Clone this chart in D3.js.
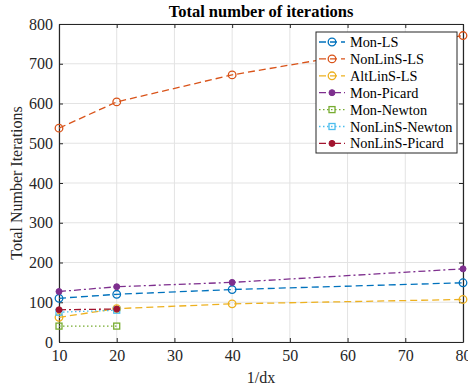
<!DOCTYPE html>
<html>
<head>
<meta charset="utf-8">
<script src="https://cdn.jsdelivr.net/npm/d3@7"></script>
<style>
  html, body { margin: 0; padding: 0; background: #fff; }
  svg { display: block; font-family: "Liberation Serif", "Times New Roman", serif; }
</style>
</head>
<body>
<svg id="chart" width="468" height="391"></svg>
<script>
// Grid resolutions (1/dx) and iteration counts per solver
const xTicks = [10, 20, 30, 40, 50, 60, 70, 80];
const yTicks = [0, 100, 200, 300, 400, 500, 600, 700, 800];

const resFull = [10, 20, 40, 80];
const resShort = [10, 20];

const monLS = [110, 120, 132, 149];
const nonLinSLS = [538, 604, 672, 771];
const altLinSLS = [62, 84, 96, 107];
const monPicard = [127, 139, 150, 184];
const monNewton = [40, 40];
const nonLinSNewton = [75, 80];
const nonLinSPicard = [81, 83];

const seriesNames = ["Mon-LS", "NonLinS-LS", "AltLinS-LS", "Mon-Picard", "Mon-Newton", "NonLinS-Newton", "NonLinS-Picard"];

const series = [
  { name: seriesNames[0], x: resFull, y: monLS, color: "#0072BD", dash: "7,4", marker: "circle" },
  { name: seriesNames[1], x: resFull, y: nonLinSLS, color: "#D95319", dash: "7,4", marker: "circle" },
  { name: seriesNames[2], x: resFull, y: altLinSLS, color: "#EDB120", dash: "7,4", marker: "circle" },
  { name: seriesNames[3], x: resFull, y: monPicard, color: "#7E2F8E", dash: "7,3,2,3", marker: "dot" },
  { name: seriesNames[4], x: resShort, y: monNewton, color: "#77AC30", dash: "1.5,2.5", marker: "square" },
  { name: seriesNames[5], x: resShort, y: nonLinSNewton, color: "#4DBEEE", dash: "1.5,2.5", marker: "square" },
  { name: seriesNames[6], x: resShort, y: nonLinSPicard, color: "#A2142F", dash: "7,3,2,3", marker: "dot" }
];

const svg = d3.select("#chart");
const plotL = 59, plotR = 463, plotT = 24, plotB = 342;

const x = d3.scaleLinear().domain([10, 80]).range([plotL, plotR]);
const y = d3.scaleLinear().domain([0, 800]).range([plotB, plotT]);

// grid
const grid = svg.append("g");
grid.selectAll(".gx").data(xTicks).enter().append("line")
  .attr("x1", d => x(d)).attr("x2", d => x(d)).attr("y1", plotT).attr("y2", plotB)
  .attr("stroke", "#e3e3e3").attr("stroke-width", 1);
grid.selectAll(".gy").data(yTicks).enter().append("line")
  .attr("x1", plotL).attr("x2", plotR).attr("y1", d => y(d)).attr("y2", d => y(d))
  .attr("stroke", "#e3e3e3").attr("stroke-width", 1);

// axes
const axisColor = "#262626";
const xAxis = svg.append("g").attr("transform", `translate(0,${plotB})`)
  .call(d3.axisBottom(x).tickValues(xTicks).tickSizeInner(-4).tickSizeOuter(0).tickPadding(9));
const yAxis = svg.append("g").attr("transform", `translate(${plotL},0)`)
  .call(d3.axisLeft(y).tickValues(yTicks).tickSizeInner(-4).tickSizeOuter(0).tickPadding(6));
const xAxisTop = svg.append("g").attr("transform", `translate(0,${plotT})`)
  .call(d3.axisTop(x).tickValues(xTicks).tickSizeInner(-4).tickSizeOuter(0).tickFormat(""));
const yAxisRight = svg.append("g").attr("transform", `translate(${plotR},0)`)
  .call(d3.axisRight(y).tickValues(yTicks).tickSizeInner(-4).tickSizeOuter(0).tickFormat(""));
[xAxis, yAxis, xAxisTop, yAxisRight].forEach(g => {
  g.select(".domain").attr("stroke", axisColor).attr("stroke-width", 1.2);
  g.selectAll(".tick line").attr("stroke", axisColor);
  g.selectAll("text").attr("fill", axisColor).style("font-family", "Liberation Serif, serif").style("font-size", "16px");
});
xAxis.selectAll("text").attr("dy", "0.6em");

function drawMarkers(g, coords, s) {
  coords.forEach(([cx, cy]) => {
    if (s.marker === "circle") {
      g.append("circle").attr("cx", cx).attr("cy", cy).attr("r", 3.8)
        .attr("fill", "none").attr("stroke", s.color).attr("stroke-width", 1.3);
    } else if (s.marker === "dot") {
      g.append("circle").attr("cx", cx).attr("cy", cy).attr("r", 3)
        .attr("fill", s.color).attr("stroke", s.color).attr("stroke-width", 1);
    } else {
      g.append("rect").attr("x", cx - 3).attr("y", cy - 3).attr("width", 6).attr("height", 6)
        .attr("fill", "none").attr("stroke", s.color).attr("stroke-width", 1.3);
    }
  });
}

// series
const line = d3.line().x(d => x(d[0])).y(d => y(d[1]));
series.forEach(s => {
  const pts = s.x.map((v, i) => [v, s.y[i]]);
  const g = svg.append("g");
  g.append("path").datum(pts).attr("d", line)
    .attr("fill", "none").attr("stroke", s.color).attr("stroke-width", 1.3)
    .attr("stroke-dasharray", s.dash);
  drawMarkers(g, pts.map(p => [x(p[0]), y(p[1])]), s);
});

// title and axis labels
svg.append("text").attr("x", (plotL + plotR) / 2).attr("y", 17)
  .attr("text-anchor", "middle").attr("font-weight", "bold").attr("font-size", 16.5)
  .attr("fill", "#000").text("Total number of iterations");
svg.append("text").attr("x", (plotL + plotR) / 2).attr("y", 383)
  .attr("text-anchor", "middle").attr("font-size", 16).attr("fill", axisColor).text("1/dx");
svg.append("text").attr("transform", `translate(22,${(plotT + plotB) / 2}) rotate(-90)`)
  .attr("text-anchor", "middle").attr("font-size", 16).attr("fill", axisColor)
  .text("Total Number Iterations");

// legend
const lg = svg.append("g");
const lx = 316, ly = 32, lw = 141, lh = 121, rowH = 16.9;
lg.append("rect").attr("x", lx).attr("y", ly).attr("width", lw).attr("height", lh)
  .attr("fill", "#fff").attr("stroke", axisColor).attr("stroke-width", 1);
series.forEach((s, i) => {
  const cy = ly + 10 + i * rowH;
  lg.append("line").attr("x1", lx + 3).attr("x2", lx + 29).attr("y1", cy).attr("y2", cy)
    .attr("stroke", s.color).attr("stroke-width", 1.3)
    .attr("stroke-dasharray", s.dash);
  drawMarkers(lg, [[lx + 16, cy]], s);
  lg.append("text").attr("x", lx + 34).attr("y", cy).attr("dy", "0.35em")
    .attr("font-size", 14.3).attr("fill", "#000").text(s.name);
});
</script>
</body>
</html>
